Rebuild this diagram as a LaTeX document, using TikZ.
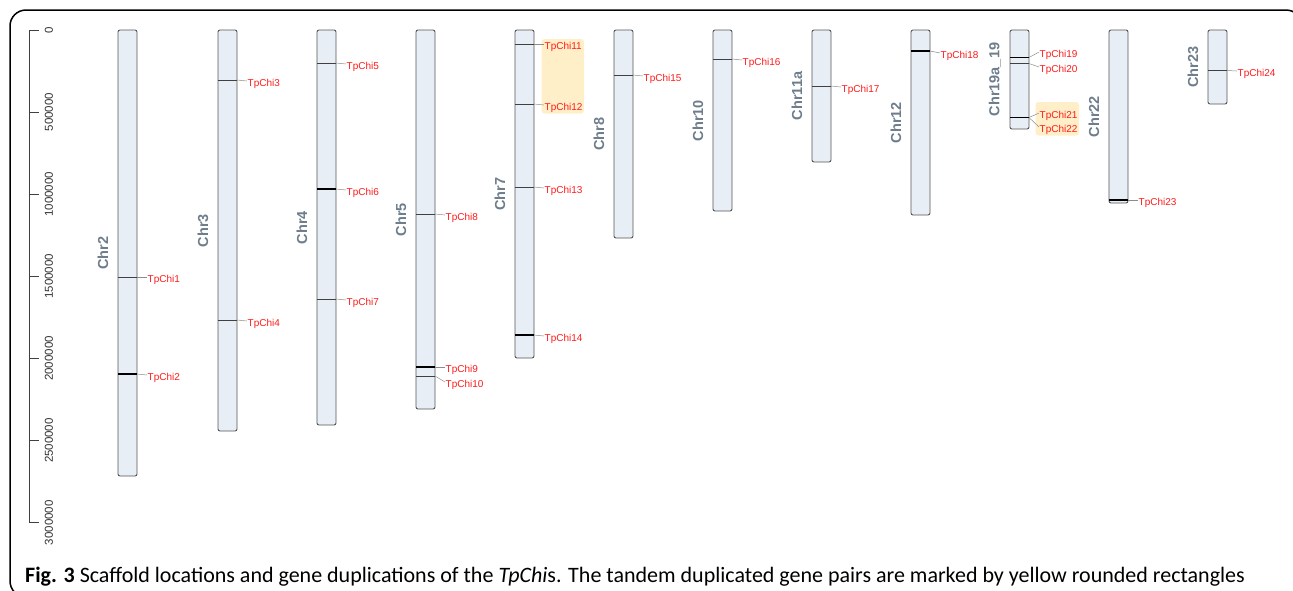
\documentclass[tikz,border=0pt]{standalone}
\usepackage{fontspec}
\setmainfont{Liberation Sans}
\newfontfamily\capfont{Carlito}
\definecolor{chrfill}{HTML}{E8EEF6}
\definecolor{chrline}{HTML}{555555}
\definecolor{chrname}{HTML}{6E7D8C}
\definecolor{genered}{HTML}{FF1A1A}
\definecolor{tandem}{HTML}{FFEFC8}
\tikzset{
    chrom/.style={draw=chrline,fill=chrfill,line width=0.9pt,rounded corners=2pt},
    chrlabel/.style={rotate=90,text=chrname,font=\bfseries\fontsize{14.5}{16}\selectfont},
    gene/.style={text=genered,font=\fontsize{10}{12}\selectfont,anchor=west,inner sep=0.5pt},
    thin mark/.style={draw=black!75,line width=0.6pt},
    thick mark/.style={draw=black,line width=1.4pt},
    leader/.style={draw=black!45,line width=0.5pt},
    tandembox/.style={fill=tandem,rounded corners=3pt},
    axislabel/.style={rotate=90,text=black!80,font=\fontsize{11.5}{13}\selectfont},
}
\begin{document}
\begin{tikzpicture}[x=1pt,y=-1pt]
    \useasboundingbox (0,0) rectangle (1293,590);
    %% frame
    \draw[line width=1.5pt,rounded corners=16pt] (10,10) rectangle (1302,597);
    %% scale
    \draw[black!75,line width=0.8pt] (39,30) -- (29,30) -- (29,522.7) -- (39,522.7);
    \foreach \k/\t in {0/0,1/500000,2/1000000,3/1500000,4/2000000,5/2500000,6/3000000} {
        \draw[black!75,line width=0.8pt] (29,{30+82.12*\k}) -- (39,{30+82.12*\k});
        \node[axislabel] (t\k) at (49,{30+82.12*\k}) {\t};
    }
    %% tandem pairs
    \fill[tandembox] (541.5,39) rectangle (584,113.5);
    \fill[tandembox] (1035.5,102) rectangle (1079,135.5);
    %% chromosomes
    \foreach \id/\x/\b/\n in {c2/118/476/Chr2, c3/218/431/Chr3, c4/317/425/Chr4,
            c5/416/409/Chr5, c7/515/358/Chr7, c8/614/238/Chr8, c10/713/211/Chr10,
            c11a/812/162/Chr11a, c12/911/215/Chr12, c19/1010/129/Chr19a\_19,
            c22/1109/203/Chr22, c23/1208/104/Chr23} {
        \draw[chrom] (\x,30) rectangle (\x+19,\b);
        \node[chrlabel] (\id) at (\x-15,{(30+\b)/2}) {\n};
    }
    %% genes
    \foreach \g/\x/\y/\ly/\s in {1/137/277/279.5/thin, 2/137/374/377.5/thick,
            3/237/80/83.5/thin, 4/237/320/323.5/thin,
            5/336/63/66.5/thin, 6/336/189/192.5/thick, 7/336/299/302.5/thin,
            8/435/214/217.5/thin, 9/435/367/369.5/thick, 10/435/376/384.5/thin,
            11/534/44/46.5/thin, 12/534/104/107.5/thin, 13/534/187/190.5/thin, 14/534/335/338.5/thick,
            15/633/75/78.5/thin, 16/732/59/62.5/thin, 17/831/86/89.5/thin, 18/930/51/55.5/thick,
            19/1029/57.5/54.5/thick, 20/1029/63.5/69.5/thin, 21/1029/117.5/115.5/thick, 22/1029/117.5/129.5/thick,
            23/1128/200/202.5/thick, 24/1227/70.5/73.5/thin} {
        \draw[\s\space mark] (\x-19,\y) -- (\x,\y);
        \coordinate (e\g) at (\x,\y);
        \node[gene] (tp\g) at (\x+10,\ly) {TpChi\g};
        \draw[leader] (e\g) -- ([yshift=2.5pt]tp\g.west);
    }
    %% caption
    \node[anchor=base west,inner sep=0] (caption) at (25,582)
        {\capfont\fontsize{22}{26}\selectfont\textbf{Fig. 3} Scaffold locations and gene duplications of the \textit{TpChi}s. The tandem duplicated gene pairs are marked by yellow rounded rectangles};
\end{tikzpicture}
\end{document}
